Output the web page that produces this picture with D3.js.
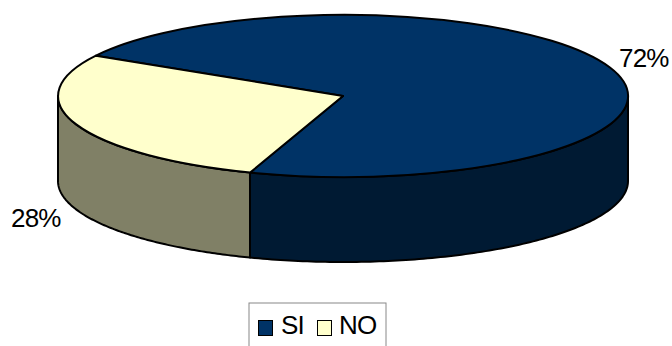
<!DOCTYPE html>
<html>
<head>
<meta charset="utf-8">
<script src="https://cdn.jsdelivr.net/npm/d3@7/dist/d3.min.js"></script>
<style>
html,body{margin:0;padding:0;background:#fff;overflow:hidden}
text{font-family:"Liberation Sans",Arial,sans-serif;fill:#000}
</style>
</head>
<body>
<svg id="chart" width="672" height="346"></svg>
<script>
const categories = ["SI", "NO"];
const shares = [72, 28];
const labels = ["72%", "28%"];
const topColors = ["#003366", "#FFFFCC"];
const wallColors = ["#001A33", "#808066"];

const W = 672, H = 346;
const cx = 343, cy = 96, rx = 285, ry = 81, depth = 85;
const firstAngle = 299.85 * Math.PI / 180;

const svg = d3.select("#chart");
svg.append("rect").attr("width", W).attr("height", H).attr("fill", "#fff");

const sx = d3.scaleLinear().domain([-1, 1]).range([cx - rx, cx + rx]);
const sy = d3.scaleLinear().domain([-1, 1]).range([cy - ry, cy + ry]);

const pie = d3.pie().sort(null).value(d => d)
  .startAngle(firstAngle).endAngle(firstAngle + 2 * Math.PI);
const slices = pie(shares);

// Point on the tilted rim; angle is clockwise from twelve o'clock
const rim = (a, drop = 0) => [sx(Math.sin(a)), sy(-Math.cos(a)) + drop];
const line = d3.line();

// Side walls: only the front half of the rim (90° to 270°) is visible
const g = svg.append("g");
slices.forEach((s, i) => {
  const spans = [[Math.PI / 2, 3 * Math.PI / 2], [5 * Math.PI / 2, 7 * Math.PI / 2]];
  spans.forEach(([lo, hi]) => {
    const a0 = Math.max(s.startAngle, lo), a1 = Math.min(s.endAngle, hi);
    if (a1 <= a0) return;
    const steps = d3.range(0, 121).map(k => a0 + (a1 - a0) * k / 120);
    const pts = steps.map(a => rim(a)).concat(steps.slice().reverse().map(a => rim(a, depth)));
    g.append("path")
      .attr("d", line(pts) + "Z")
      .attr("fill", wallColors[i])
      .attr("stroke", "#000")
      .attr("stroke-width", 2)
      .attr("stroke-linejoin", "round");
  });
});

// Top face of each slice
const arc = d3.arc().innerRadius(0).outerRadius(1);
slices.forEach((s, i) => {
  g.append("path")
    .attr("transform", `translate(${cx},${cy}) scale(${rx},${ry})`)
    .attr("d", arc(s))
    .attr("fill", topColors[i])
    .attr("stroke", "#000")
    .attr("stroke-width", 2)
    .attr("vector-effect", "non-scaling-stroke")
    .attr("stroke-linejoin", "round");
});

// Percentage labels
const labelPos = [[619, 67], [11, 227]];
labels.forEach((t, i) => {
  svg.append("text")
    .attr("x", labelPos[i][0]).attr("y", labelPos[i][1])
    .attr("font-size", 26).attr("letter-spacing", -0.8).text(t);
});

// Legend, its frame runs off the bottom edge
const legend = svg.append("g");
legend.append("rect")
  .attr("x", 249).attr("y", 303).attr("width", 137).attr("height", 60)
  .attr("fill", "#fff").attr("stroke", "#888").attr("stroke-width", 1);
const keyX = [258.5, 317.5], textX = [281, 339];
categories.forEach((c, i) => {
  legend.append("rect")
    .attr("x", keyX[i]).attr("y", 320.5).attr("width", 14).attr("height", 15)
    .attr("fill", topColors[i]).attr("stroke", "#000").attr("stroke-width", 1);
  legend.append("text")
    .attr("x", textX[i]).attr("y", 334)
    .attr("font-size", 26).attr("letter-spacing", -0.8).text(c);
});
</script>
</body>
</html>
